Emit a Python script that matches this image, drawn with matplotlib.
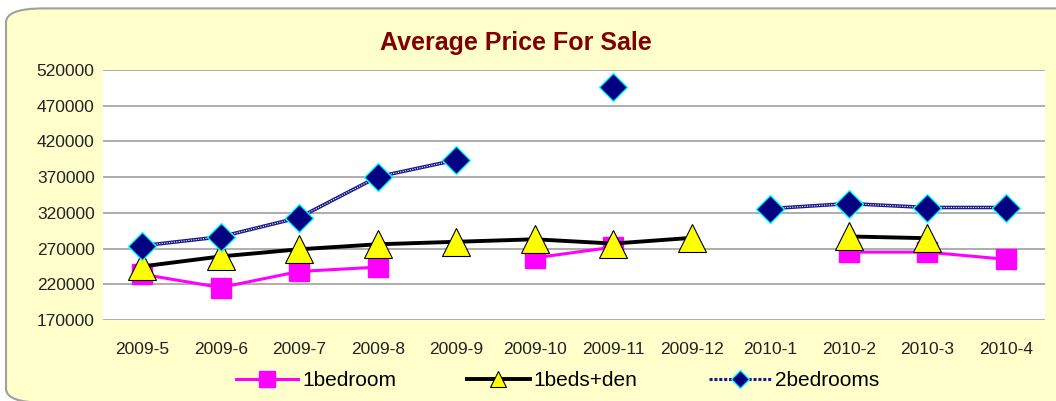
import numpy as np
import matplotlib.pyplot as plt
from matplotlib.patches import FancyBboxPatch
from matplotlib.lines import Line2D

nan = np.nan
meses = ['2009-5', '2009-6', '2009-7', '2009-8', '2009-9', '2009-10',
         '2009-11', '2009-12', '2010-1', '2010-2', '2010-3', '2010-4']
un_cuarto = [234000, 215500, 238000, 244000, nan, 257000,
             272000, nan, nan, 265000, 265000, 255000]
cuarto_den = [245000, 259000, 269000, 276000, 279500, 283000,
              277000, 285000, nan, 287000, 284500, nan]
dos_cuartos = [274000, 286500, 313500, 370500, 394000, nan,
               496500, nan, 326000, 333000, 327500, 327500]
yticks = [170000, 220000, 270000, 320000, 370000, 420000, 470000, 520000]

plt.rcParams['font.family'] = ['Liberation Sans', 'DejaVu Sans']

fig = plt.figure(figsize=(10.56, 4.01), dpi=100)
fig.patch.set_facecolor('white')

# fondo amarillo con borde redondeado
fondo = FancyBboxPatch((6 / 1056, -0.004), 1.2, 0.983,
                       boxstyle='round,pad=0,rounding_size=0.035',
                       transform=fig.transFigure, facecolor='#FFFFCC',
                       edgecolor='#A0A0A0', linewidth=1.5, zorder=-5)
fig.add_artist(fondo)

ax = fig.add_axes([103 / 1056, 1 - 320 / 401, 942 / 1056, 250 / 401])
ax.set_facecolor('white')
x = np.arange(len(meses))

ax.plot(x, un_cuarto, color='#FF00FF', lw=2.2, marker='s', ms=15,
        mfc='#FF00FF', mec='#FF00FF', zorder=3, label='1bedroom')
ax.plot(x, cuarto_den, color='black', lw=2.8, marker='^', ms=20,
        mfc='#FFFF00', mec='black', mew=0.8, zorder=4, label='1beds+den')
ax.plot(x, dos_cuartos, color='#1A1A8C', lw=2.6, zorder=5)
ax.plot(x, dos_cuartos, color='white', lw=0.8, dashes=(1, 1.2), zorder=5)
ax.plot(x, dos_cuartos, ls='none', marker='D', ms=14, mfc='#000080',
        mec='#00FFFF', mew=1.0, zorder=6)

ax.set_xlim(-0.5, len(meses) - 0.5)
ax.set_ylim(170000, 520000)
ax.set_yticks(yticks)
ax.set_yticklabels([str(v) for v in yticks])
ax.set_xticks(x)
ax.set_xticklabels(meses)
ax.tick_params(length=0, labelsize=12.5, colors='#222222')
ax.tick_params(axis='x', pad=16)
ax.tick_params(axis='y', pad=6)
for s in ax.spines.values():
    s.set_visible(False)
ax.grid(axis='y', color='#A0A0A0', lw=1.2)
ax.set_axisbelow(True)

fig.text(516 / 1056, 1 - 43 / 401, 'Average Price For Sale', ha='center',
         va='center', fontsize=18, fontweight='bold', color='#800000')

# leyenda
h1 = Line2D([], [], color='#FF00FF', lw=2.2, marker='s', ms=12,
            mfc='#FF00FF', mec='#FF00FF')
h2 = Line2D([], [], color='black', lw=2.8, marker='^', ms=12,
            mfc='#FFFF00', mec='black', mew=0.8)
h3 = Line2D([], [], color='#1A1A8C', lw=2.2, ls=(0, (1, 0.6)), marker='D',
            ms=9, mfc='#000080', mec='#00FFFF')
fig.legend([h1, h2, h3], ['1bedroom', '1beds+den', '2bedrooms'],
           loc='center', bbox_to_anchor=(0.528, 1 - 381 / 401), ncol=3,
           frameon=False, fontsize=15, handlelength=3.0, handletextpad=0.2,
           columnspacing=3.4)

plt.savefig('out.png', dpi=100, facecolor=fig.get_facecolor())
